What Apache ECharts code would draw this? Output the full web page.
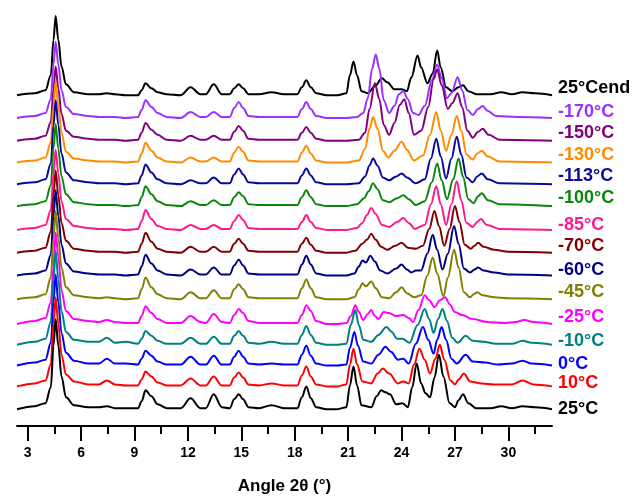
<!DOCTYPE html>
<html><head><meta charset="utf-8">
<script src="https://cdn.jsdelivr.net/npm/echarts@6/dist/echarts.min.js"></script>
<style>html,body{margin:0;padding:0;background:#fff}#c{width:635px;height:500px}</style>
</head><body><div id="c"></div><script>
// 2θ positions shared by the low-angle part of every pattern
const xLeft = [2.4, 3.4, 4.0, 4.3, 4.45, 4.57, 4.72, 4.9, 5.15, 5.6, 6.4, 7.0, 7.45, 7.9, 8.5, 9.2, 9.4, 9.62, 9.95, 10.3, 10.8, 11.6, 12.15, 12.7, 13.0, 13.45, 13.9, 14.35, 14.6, 14.85, 15.1, 15.4, 16.0, 16.7, 17.4, 18.15, 18.4, 18.65, 18.9, 19.2, 19.8, 20.4];

const labels = ['25°Cend', '-170°C', '-150°C', '-130°C', '-113°C', '-100°C', '-85°C', '-70°C', '-60°C', '-45°C', '-25°C', '-10°C', '0°C', '10°C', '25°C'];
// vertical stacking offset of each pattern (intensity units)
const offsets = [334, 311, 288, 266, 244, 222, 198, 175, 152, 128, 103, 82, 61, 40, 17];

const majorTicks = [3, 6, 9, 12, 15, 18, 21, 24, 27, 30];
const minorTicks = [4.5, 7.5, 10.5, 13.5, 16.5, 19.5, 22.5, 25.5, 28.5, 31.5];

// low-angle intensities (at xLeft) per pattern
const left_25end = [0, 2, 5, 20, 56, 80, 56, 29, 11, 3, 1, 1, 2, 1, 0, 0, 5, 12, 7, 3, 1, 0, 8, 1, 1, 11, 1, 1, 7, 11, 7, 1, 1, 3, 1, 1, 8, 15, 8, 2, 0, 0];
const left_m170 = [0, 2, 5, 19, 54, 77, 54, 28, 11, 4, 2, 1, 1, 1, 0, 1, 8, 18, 11, 5, 1, 0, 6, 1, 1, 6, 1, 1, 10, 16, 10, 2, 1, 1, 1, 1, 9, 16, 9, 2, 0, 0];
const left_m150 = [0, 2, 5, 19, 52, 75, 53, 27, 10, 4, 2, 1, 1, 1, 0, 1, 8, 18, 11, 6, 1, 0, 5, 1, 1, 5, 1, 1, 9, 15, 10, 2, 1, 1, 1, 1, 8, 14, 8, 2, 0, 0];
const left_m130 = [0, 2, 5, 20, 57, 82, 57, 30, 11, 4, 2, 1, 1, 1, 0, 1, 9, 20, 12, 5, 1, 0, 5, 1, 1, 5, 1, 1, 10, 16, 11, 2, 1, 1, 1, 1, 10, 17, 9, 2, 0, 0];
const left_m113 = [0, 2, 5, 21, 59, 85, 60, 31, 12, 4, 2, 1, 1, 1, 0, 1, 9, 20, 12, 5, 1, 0, 4, 1, 1, 7, 1, 1, 10, 16, 10, 2, 1, 1, 1, 1, 9, 16, 9, 2, 0, 0];
const left_m100 = [0, 2, 5, 21, 58, 83, 58, 30, 12, 4, 2, 1, 1, 1, 0, 1, 9, 20, 12, 5, 1, 0, 5, 1, 1, 6, 1, 1, 9, 14, 10, 2, 1, 1, 1, 1, 9, 16, 9, 2, 0, 0];
const left_m85 = [0, 2, 5, 20, 57, 81, 57, 29, 11, 4, 2, 1, 1, 1, 0, 1, 9, 20, 11, 4, 1, 0, 5, 1, 1, 5, 1, 1, 9, 15, 10, 2, 1, 1, 1, 1, 8, 15, 8, 2, 0, 0];
const left_m70 = [0, 2, 5, 21, 58, 83, 58, 30, 12, 4, 2, 1, 1, 1, 0, 1, 9, 20, 11, 4, 1, 0, 6, 1, 1, 6, 1, 1, 9, 14, 9, 2, 1, 1, 1, 1, 9, 15, 8, 2, 0, 0];
const left_m60 = [0, 2, 5, 21, 60, 86, 60, 31, 12, 4, 2, 1, 1, 1, 0, 1, 9, 21, 12, 5, 1, 0, 6, 1, 1, 8, 1, 1, 10, 16, 10, 2, 1, 1, 1, 1, 11, 20, 11, 2, 0, 0];
const left_m45 = [0, 2, 5, 22, 62, 89, 62, 32, 12, 4, 2, 1, 2, 1, 0, 1, 10, 22, 12, 5, 1, 0, 7, 1, 1, 9, 1, 1, 10, 15, 10, 2, 1, 1, 1, 1, 11, 20, 11, 2, 0, 0];
const left_m25 = [0, 3, 6, 22, 58, 92, 68, 34, 13, 5, 3, 2, 4, 2, 1, 1, 8, 18, 11, 5, 1, 1, 8, 2, 1, 10, 2, 1, 9, 15, 11, 3, 1, 1, 1, 1, 9, 19, 13, 3, 0, 0];
const left_m10 = [0, 3, 6, 23, 66, 95, 66, 34, 13, 5, 3, 3, 7, 2, 3, 1, 6, 14, 9, 4, 1, 1, 7, 1, 1, 8, 1, 1, 9, 14, 9, 2, 1, 3, 1, 1, 10, 19, 10, 2, 0, 0];
const left_0 = [0, 3, 6, 23, 64, 92, 64, 33, 13, 5, 2, 2, 7, 2, 2, 1, 7, 15, 10, 4, 1, 1, 9, 1, 1, 10, 1, 1, 9, 15, 9, 2, 1, 2, 1, 1, 11, 20, 10, 2, 0, 0];
const left_10 = [0, 3, 6, 22, 63, 90, 63, 32, 12, 5, 2, 2, 6, 2, 1, 1, 7, 15, 10, 4, 1, 1, 8, 1, 1, 10, 1, 1, 9, 14, 9, 2, 1, 3, 1, 1, 11, 20, 10, 2, 0, 0];
const left_25 = [0, 3, 6, 22, 64, 91, 64, 33, 12, 4, 2, 2, 3, 1, 1, 1, 8, 19, 13, 5, 1, 1, 11, 1, 1, 15, 2, 1, 10, 15, 10, 2, 1, 4, 1, 1, 12, 23, 11, 2, 0, 0];

// high-angle part: [2θ, intensity] per pattern
const right_25end = [[20.9,2],[21.1,20],[21.3,34],[21.5,20],[21.75,4],[22.1,2],[22.5,9],[22.9,17],[23.2,13],[23.6,6],[24.0,6],[24.3,4],[24.55,18],[24.9,40],[25.1,28],[25.45,12],[25.75,22],[26.0,45],[26.2,28],[26.5,8],[26.85,4],[27.2,8],[27.45,10],[27.75,4],[28.2,1],[29.0,1],[29.6,3],[30.2,1],[30.8,3],[31.5,2],[32.45,0]];
const right_m170 = [[20.9,0],[21.5,1],[21.85,5],[22.1,20],[22.35,50],[22.55,64],[22.75,50],[23.0,18],[23.3,5],[23.6,12],[23.85,24],[24.1,27],[24.35,19],[24.65,5],[24.95,3],[25.3,12],[25.7,38],[26.0,54],[26.25,40],[26.55,20],[26.8,25],[27.15,41],[27.4,28],[27.7,8],[28.0,3],[28.3,9],[28.55,12],[28.85,7],[29.3,2],[30.5,1],[32.45,0]];
const right_m150 = [[20.9,0],[21.6,1],[21.95,8],[22.2,32],[22.5,58],[22.75,42],[23.0,16],[23.3,6],[23.6,18],[23.9,36],[24.15,42],[24.4,28],[24.7,6],[25.1,10],[25.5,34],[25.8,62],[26.0,72],[26.25,56],[26.6,32],[26.85,38],[27.15,48],[27.4,34],[27.7,10],[28.0,3],[28.3,9],[28.55,12],[28.9,6],[29.5,1],[32.45,0]];
const right_m130 = [[20.9,0],[21.6,2],[21.95,14],[22.2,34],[22.4,46],[22.65,34],[22.95,12],[23.25,5],[23.6,12],[24.0,21],[24.3,13],[24.7,2],[25.2,7],[25.6,28],[25.95,51],[26.2,32],[26.5,12],[26.8,28],[27.1,47],[27.35,32],[27.65,8],[28.0,3],[28.25,9],[28.5,12],[28.85,6],[29.5,1],[32.45,0]];
const right_m113 = [[20.9,0],[21.6,1],[21.95,8],[22.2,19],[22.4,26],[22.65,19],[22.95,7],[23.3,4],[23.7,8],[24.0,11],[24.3,7],[24.8,1],[25.3,5],[25.65,26],[25.95,46],[26.2,28],[26.5,6],[26.8,26],[27.1,48],[27.35,30],[27.65,7],[28.0,2],[28.25,8],[28.5,11],[28.85,5],[29.5,1],[32.45,0]];
const right_m100 = [[20.9,0],[21.5,2],[21.9,8],[22.15,15],[22.4,23],[22.65,17],[22.95,6],[23.3,4],[23.75,8],[24.1,11],[24.4,7],[24.8,1],[25.3,5],[25.7,24],[26.0,43],[26.25,26],[26.55,7],[26.9,27],[27.2,48],[27.45,30],[27.75,7],[28.05,3],[28.3,10],[28.5,13],[28.85,6],[29.5,2],[32.45,0]];
const right_m85 = [[20.9,0],[21.5,2],[21.8,7],[22.05,15],[22.3,22],[22.55,16],[22.9,5],[23.3,3],[23.75,8],[24.1,12],[24.4,7],[24.75,1],[25.3,5],[25.65,26],[25.95,44],[26.2,26],[26.5,5],[26.8,26],[27.1,49],[27.35,30],[27.65,7],[28.0,3],[28.25,8],[28.45,11],[28.8,5],[29.5,1],[32.45,0]];
const right_m70 = [[20.9,0],[21.4,2],[21.8,9],[22.05,13],[22.3,19],[22.55,13],[22.85,6],[23.2,3],[23.65,7],[24.0,10],[24.35,5],[24.8,4],[25.2,7],[25.55,24],[25.85,42],[26.1,27],[26.4,7],[26.7,24],[27.0,47],[27.25,31],[27.55,8],[27.9,4],[28.1,7],[28.3,10],[28.6,6],[29.2,3],[30.0,1],[32.45,0]];
const right_m60 = [[20.9,0],[21.35,2],[21.6,9],[21.8,15],[22.0,13],[22.25,20],[22.5,14],[22.8,5],[23.2,2],[23.7,7],[24.0,11],[24.3,6],[24.55,3],[24.8,5],[25.1,5],[25.45,22],[25.75,41],[26.0,26],[26.3,6],[26.6,22],[26.95,50],[27.2,32],[27.5,7],[27.85,3],[28.1,6],[28.3,8],[28.6,5],[29.2,3],[30.0,1],[32.45,0]];
const right_m45 = [[20.9,0],[21.35,2],[21.6,10],[21.8,16],[22.0,13],[22.3,18],[22.55,11],[22.9,2],[23.3,1],[23.7,7],[24.0,12],[24.3,6],[24.7,2],[25.1,4],[25.45,24],[25.75,42],[26.0,26],[26.35,3],[26.6,22],[26.95,50],[27.2,32],[27.5,7],[27.85,2],[28.05,5],[28.25,7],[28.55,4],[29.2,2],[30.0,1],[32.45,0]];
const right_m25 = [[20.9,1],[21.15,8],[21.4,19],[21.6,12],[21.85,4],[22.1,10],[22.3,14],[22.5,8],[22.7,5],[23.0,12],[23.3,11],[23.7,8],[24.1,9],[24.4,6],[24.65,2],[24.95,14],[25.3,29],[25.55,24],[25.85,17],[26.15,24],[26.45,27],[26.7,20],[27.0,12],[27.4,9],[28.0,5],[28.8,2],[29.8,1],[30.4,2],[30.9,4],[31.4,2],[32.45,0]];
const right_m10 = [[20.9,1],[21.15,20],[21.4,35],[21.6,20],[21.85,5],[22.3,3],[22.7,10],[23.15,18],[23.45,13],[23.75,6],[24.05,6],[24.45,2],[24.9,20],[25.3,36],[25.55,26],[25.8,12],[26.05,26],[26.3,36],[26.55,24],[26.85,7],[27.15,2],[27.6,9],[28.0,4],[28.6,3],[29.3,1],[30.2,1],[30.8,4],[31.3,2],[32.45,0]];
const right_0 = [[20.9,1],[21.1,18],[21.35,34],[21.55,20],[21.85,4],[22.3,2],[22.7,11],[23.1,19],[23.4,14],[23.8,6],[24.1,7],[24.4,2],[24.8,22],[25.2,39],[25.5,26],[25.8,12],[26.0,26],[26.25,39],[26.5,26],[26.8,7],[27.1,2],[27.6,11],[28.0,4],[28.7,3],[29.4,1],[30.2,2],[30.8,5],[31.3,2],[32.45,0]];
const right_10 = [[20.9,2],[21.1,22],[21.3,38],[21.5,22],[21.8,5],[22.3,3],[22.65,13],[22.95,18],[23.3,13],[23.8,3],[24.1,5],[24.4,3],[24.7,22],[25.0,38],[25.3,27],[25.6,13],[25.9,28],[26.15,42],[26.4,27],[26.75,6],[27.0,2],[27.2,7],[27.5,13],[27.85,5],[28.5,3],[29.2,2],[30.2,2],[30.8,6],[31.4,2],[32.45,0]];
const right_25 = [[20.9,2],[21.1,24],[21.3,43],[21.5,24],[21.75,4],[22.3,2],[22.6,13],[22.85,19],[23.1,17],[23.35,15],[23.7,5],[24.05,6],[24.35,2],[24.6,22],[24.85,46],[25.1,26],[25.35,16],[25.6,12],[25.85,32],[26.1,55],[26.35,33],[26.7,6],[27.0,2],[27.2,9],[27.45,15],[27.75,6],[28.2,1],[29.0,1],[29.6,3],[30.2,1],[30.8,3],[31.5,2],[32.45,0]];

const leftSets = [left_25end, left_m170, left_m150, left_m130, left_m113, left_m100, left_m85, left_m70, left_m60, left_m45, left_m25, left_m10, left_0, left_10, left_25];
const rightSets = [right_25end, right_m170, right_m150, right_m130, right_m113, right_m100, right_m85, right_m70, right_m60, right_m45, right_m25, right_m10, right_0, right_10, right_25];

const colors = ['#000000', '#9b30ff', '#800080', '#ff8c00', '#0a0a9a', '#0a870a', '#ff1a8c', '#800000', '#000080', '#808000', '#ff00ff', '#008080', '#0000ff', '#ff0000', '#000000'];
const labelShift = [-7, -6, -8, -8, -8, -8, -5, -7, -5, -7, -7, -4, -2, -3, 0];

const chart = echarts.init(document.getElementById('c'), null, {renderer: 'canvas'});
const series = labels.map((name, i) => {
  const data = xLeft.map((x, j) => [x, leftSets[i][j] + offsets[i]])
    .concat(rightSets[i].map(p => [p[0], p[1] + offsets[i]]));
  return {
    type: 'line', name: name, data: data, showSymbol: false, symbol: 'none',
    smooth: 0.35, smoothMonotone: 'x',
    lineStyle: {color: colors[i], width: 2},
    itemStyle: {color: colors[i]},
    silent: true,
    endLabel: {show: true, formatter: name, color: colors[i], fontSize: 18, fontWeight: 'bold',
      fontFamily: 'Liberation Sans, Arial, sans-serif', distance: 6, offset: [0, labelShift[i]]}
  };
});

chart.setOption({
  animation: false,
  backgroundColor: '#fff',
  grid: {left: 17, right: 83, top: 10, bottom: 70, containLabel: false},
  xAxis: [{
    type: 'value', min: 2.4, max: 32.45, position: 'bottom',
    axisLine: {show: true, onZero: false, lineStyle: {color: '#000', width: 2}},
    axisTick: {show: true, inside: false, length: 15, customValues: majorTicks, lineStyle: {color: '#000', width: 2}},
    axisLabel: {show: true, customValues: majorTicks, color: '#000', fontSize: 14, fontWeight: 'bold',
      fontFamily: 'Liberation Sans, Arial, sans-serif', margin: 20},
    splitLine: {show: false},
    name: 'Angle 2θ (°)', nameLocation: 'middle', nameGap: 52,
    nameTextStyle: {color: '#000', fontSize: 17, fontWeight: 'bold', fontFamily: 'Liberation Sans, Arial, sans-serif'}
  }, {
    type: 'value', min: 2.4, max: 32.45, position: 'bottom',
    axisLine: {show: false, onZero: false},
    axisTick: {show: true, inside: false, length: 8, customValues: minorTicks, lineStyle: {color: '#000', width: 2}},
    axisLabel: {show: false},
    splitLine: {show: false}
  }],
  yAxis: {type: 'value', min: 0, max: 420, show: false, splitLine: {show: false}},
  series: series
});
</script></body></html>
